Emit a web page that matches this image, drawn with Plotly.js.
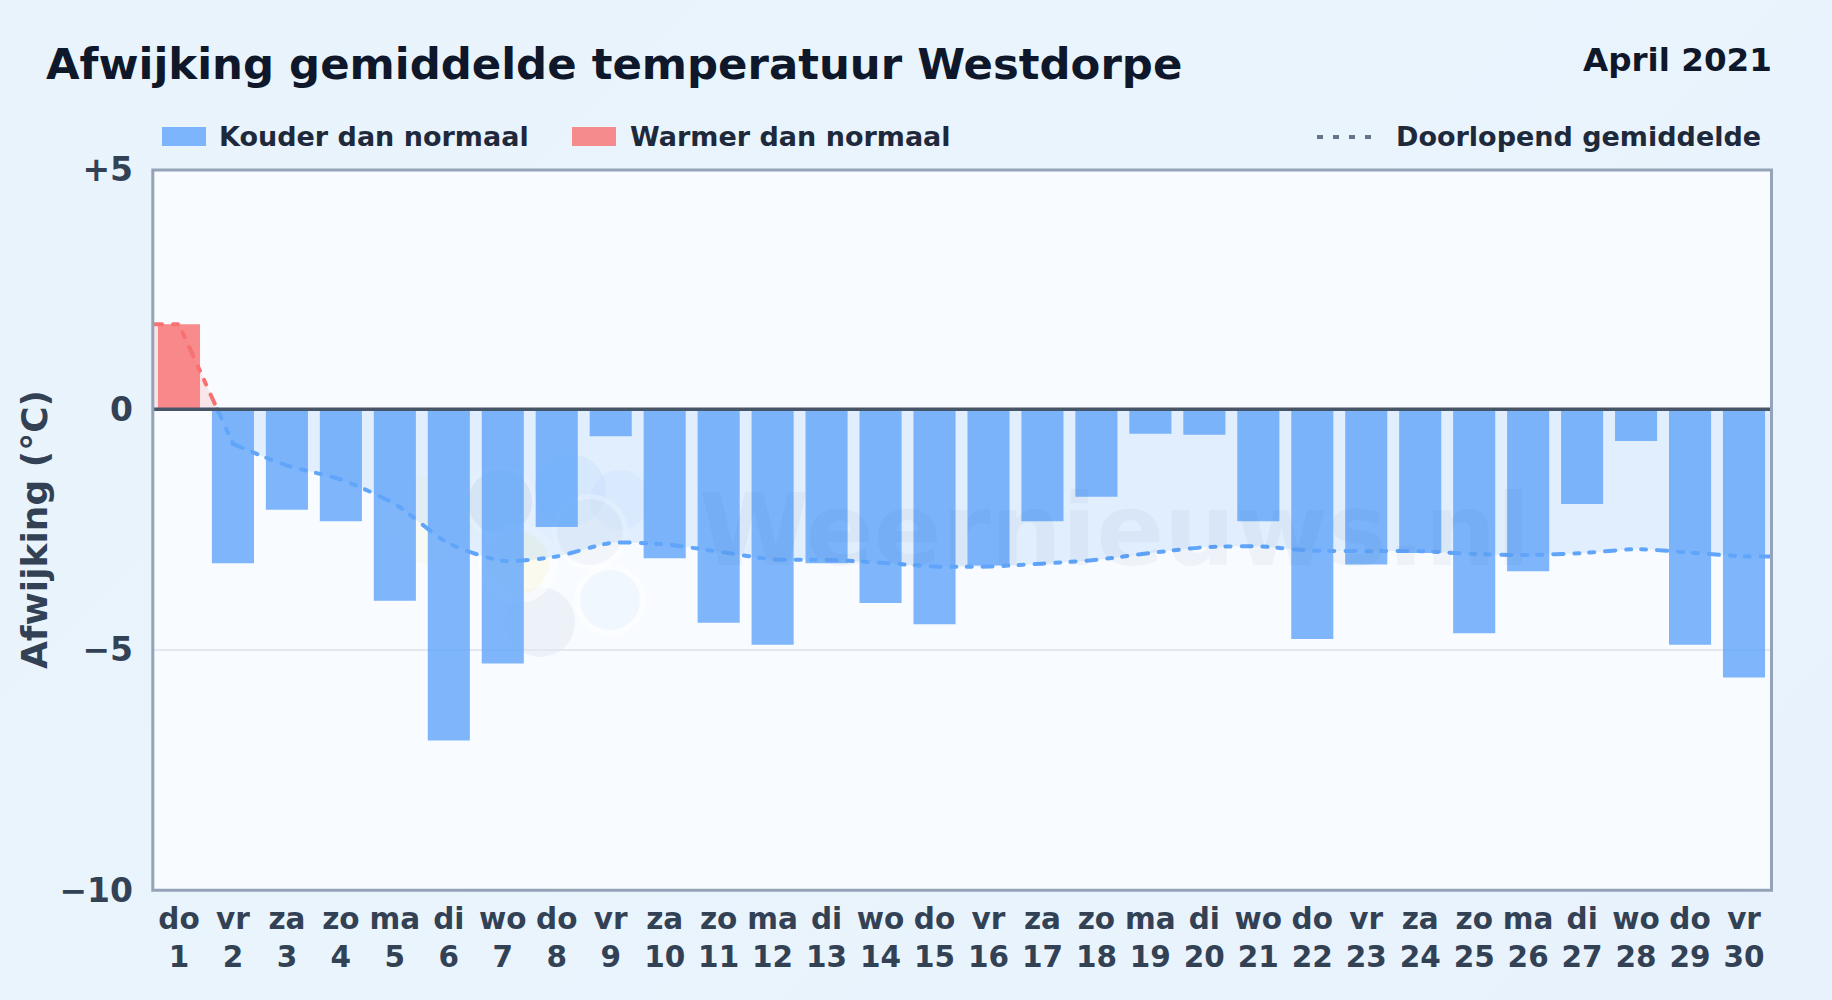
<!DOCTYPE html>
<html>
<head>
<meta charset="utf-8">
<script src="https://cdn.plot.ly/plotly-3.0.1.min.js"></script>
<style>
html,body{margin:0;padding:0;width:1832px;height:1000px;overflow:hidden;background:linear-gradient(135deg,#e8f3fc 0%,#e9f4fd 50%,#e8f2fc 100%);}
#chart{width:1832px;height:1000px;}
.scatterlayer .js-line{stroke-linecap:round;}
</style>
</head>
<body>
<div id="chart"></div>
<script>
const dayNames = ["do","vr","za","zo","ma","di","wo","do","vr","za","zo","ma","di","wo","do","vr","za","zo","ma","di","wo","do","vr","za","zo","ma","di","wo","do","vr"];
const dayNumbers = [1,2,3,4,5,6,7,8,9,10,11,12,13,14,15,16,17,18,19,20,21,22,23,24,25,26,27,28,29,30];
const warmDays = [1];
const warmValues = [1.77];
const coldDays = [2,3,4,5,6,7,8,9,10,11,12,13,14,15,16,17,18,19,20,21,22,23,24,25,26,27,28,29,30];
const coldValues = [-3.2,-2.09,-2.33,-3.98,-6.89,-5.29,-2.45,-0.56,-3.1,-4.44,-4.9,-3.2,-4.03,-4.47,-3.25,-2.33,-1.82,-0.51,-0.53,-2.33,-4.78,-3.23,-2.99,-4.66,-3.37,-1.97,-0.66,-4.9,-5.58];
const avgWarmX = [0.5,1,1.71];
const avgWarmY = [1.77,1.77,0];
const avgDropX = [1.71,2];
const avgDropY = [0,-0.72];
const avgColdX = [2,3,4,5,6,7,8,9,10,11,12,13,14,15,16,17,18,19,20,21,22,23,24,25,26,27,28,29,30,30.5];
const avgColdY = [-0.72,-1.17,-1.46,-1.97,-2.79,-3.15,-3.06,-2.78,-2.81,-2.96,-3.12,-3.13,-3.19,-3.27,-3.27,-3.21,-3.13,-2.99,-2.87,-2.85,-2.94,-2.95,-2.95,-3.01,-3.03,-2.99,-2.91,-2.98,-3.06,-3.06];
const yTickValues = [5,0,-5,-10];
const yTickLabels = ["+5","0","−5","−10"];
const labels = {
  title: "Afwijking gemiddelde temperatuur Westdorpe",
  period: "April 2021",
  cold: "Kouder dan normaal",
  warm: "Warmer dan normaal",
  average: "Doorlopend gemiddelde",
  yTitle: "Afwijking (°C)",
  watermark: "Weernieuws.nl"
};

const W = 1832, H = 1000, L = 152, R = 1771, T = 169, B = 890;
const px = x => (x - L) / (R - L);
const py = y => (B - y) / (B - T);
const FONT = '"DejaVu Sans", sans-serif';

function blob(cx, cy, r, color) {
  return {type:'circle', xref:'paper', yref:'paper', layer:'below', line:{width:0}, fillcolor:color,
    x0:px(cx-r), x1:px(cx+r), y0:py(cy+r), y1:py(cy-r)};
}
const logoShapes = [
  blob(430,520,44,'rgba(245,240,190,0.16)'),
  blob(570,490,36,'rgba(96,165,250,0.08)'),
  blob(620,500,30,'rgba(96,165,250,0.06)'),
  blob(500,502,37,'rgba(255,255,255,0.5)'),
  blob(500,502,32,'rgba(30,64,120,0.07)'),
  blob(540,622,35,'rgba(30,64,120,0.05)'),
  blob(590,532,38,'rgba(255,255,255,0.5)'),
  blob(590,532,33,'rgba(30,64,120,0.045)'),
  blob(518,563,40,'rgba(255,255,255,0.6)'),
  blob(518,563,31,'rgba(245,245,200,0.3)'),
  blob(610,600,36,'rgba(255,255,255,0.5)'),
  blob(610,600,30,'rgba(96,165,250,0.07)')
];

const FILLBLUE = 'rgba(96,165,250,0.15)';
const LINEWIDTH = 4;
const DASH = '10px,11px,5px,10px,5px,11px';
const traces = [
  {type:'bar', name:labels.cold, x:coldDays, y:coldValues, marker:{color:'rgba(96,165,250,0.8)', line:{width:0}}},
  {type:'bar', name:labels.warm, x:warmDays, y:warmValues, marker:{color:'rgba(248,113,113,0.8)', line:{width:0}}},
  {type:'scatter', mode:'lines', name:labels.average, x:avgColdX, y:avgColdY, fill:'tozeroy', fillcolor:FILLBLUE,
    line:{color:'#60a5fa', width:LINEWIDTH, dash:DASH, shape:'spline', smoothing:0.7}},
  {type:'scatter', mode:'lines', name:labels.average, x:avgDropX, y:avgDropY, fill:'tozeroy', fillcolor:FILLBLUE,
    line:{color:'#60a5fa', width:LINEWIDTH, dash:DASH}},
  {type:'scatter', mode:'lines', name:labels.average, x:avgWarmX, y:avgWarmY, fill:'tozeroy', fillcolor:'rgba(248,113,113,0.15)',
    line:{color:'#f87171', width:LINEWIDTH, dash:DASH}}
];

function legendText(x, text, anchor) {
  return {xref:'paper', yref:'paper', x:px(x), y:py(136), xanchor:anchor || 'left', yanchor:'middle', showarrow:false,
    text:text, font:{family:FONT, size:27, color:'#1e293b', weight:700}};
}

const layout = {
  width:W, height:H, autosize:false, showlegend:false, hovermode:false,
  paper_bgcolor:'rgba(0,0,0,0)', plot_bgcolor:'#f8fbff',
  margin:{l:L, r:W-R, t:T, b:H-B, pad:0},
  barmode:'overlay', bargap:0.22,
  font:{family:FONT, color:'#334155'},
  xaxis:{range:[0.5,30.5], tickmode:'array', tickvals:dayNumbers, ticktext:dayNames.map((n,i) => n + '<br>' + dayNumbers[i]),
    ticks:'', showgrid:false, zeroline:false, showline:false, fixedrange:true, ticklabelstandoff:8,
    tickfont:{family:FONT, size:29.5, color:'#334155', weight:700}},
  yaxis:{range:[-10,5], tickmode:'array', tickvals:yTickValues, ticktext:yTickLabels, ticks:'', showgrid:true, gridcolor:'#e2e8f0', gridwidth:2,
    zeroline:false, showline:false, fixedrange:true, ticklabelstandoff:18,
    tickfont:{family:FONT, size:33, color:'#334155', weight:700},
    title:{text:labels.yTitle, standoff:0, font:{family:FONT, size:36, color:'#334155', weight:700}}},
  shapes: logoShapes.concat([
    {type:'line', xref:'paper', yref:'y', layer:'above', x0:0, x1:1, y0:0, y1:0, line:{color:'#475569', width:3.5}},
    {type:'rect', xref:'paper', yref:'paper', layer:'above', x0:px(152.8), x1:px(1771.5), y0:py(890.3), y1:py(170), line:{color:'#94a3b8', width:3}, fillcolor:'rgba(0,0,0,0)'},
    {type:'rect', xref:'paper', yref:'paper', x0:px(162), x1:px(206), y0:py(146), y1:py(127), line:{width:0}, fillcolor:'rgba(96,165,250,0.8)'},
    {type:'rect', xref:'paper', yref:'paper', x0:px(572), x1:px(616), y0:py(146), y1:py(127), line:{width:0}, fillcolor:'rgba(248,113,113,0.8)'},
    {type:'line', xref:'paper', yref:'paper', x0:px(1317), x1:px(1375), y0:py(137), y1:py(137), line:{color:'#64748b', width:4, dash:'6px,10px'}}
  ]),
  annotations:[
    {xref:'paper', yref:'paper', x:px(44), y:py(64), xanchor:'left', yanchor:'middle', showarrow:false, text:labels.title,
      font:{family:FONT, size:43.4, color:'#0f172a', weight:700}},
    {xref:'paper', yref:'paper', x:px(1774), y:py(60), xanchor:'right', yanchor:'middle', showarrow:false, text:labels.period,
      font:{family:FONT, size:32.6, color:'#0f172a', weight:700}},
    legendText(216.5, labels.cold),
    legendText(628, labels.warm),
    legendText(1763, labels.average, 'right'),
    {xref:'paper', yref:'paper', x:px(1115), y:py(530), xanchor:'center', yanchor:'middle', showarrow:false, text:labels.watermark,
      font:{family:FONT, size:100, color:'rgba(30,64,120,0.045)', weight:700}}
  ]
};

Plotly.newPlot('chart', traces, layout, {displayModeBar:false, staticPlot:true});
</script>
</body>
</html>
